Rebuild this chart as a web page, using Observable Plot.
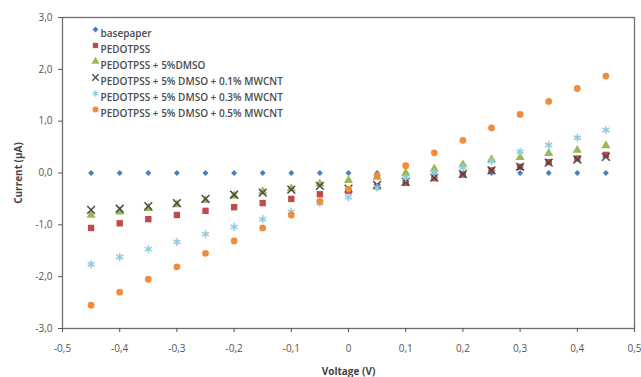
<!DOCTYPE html>
<html>
<head>
<meta charset="utf-8">
<script src="https://cdn.jsdelivr.net/npm/d3@7"></script>
<script src="https://cdn.jsdelivr.net/npm/@observablehq/plot@0.6"></script>
<style>
  html, body { margin: 0; padding: 0; background: #fff; }
  #chart svg { display: block; font-family: "Open Sans", sans-serif; overflow: visible; }
</style>
</head>
<body>
<div id="chart"></div>
<script>
const voltage = [-0.45, -0.4, -0.35, -0.3, -0.25, -0.2, -0.15, -0.1, -0.05, 0, 0.05, 0.1, 0.15, 0.2, 0.25, 0.3, 0.35, 0.4, 0.45];

const seriesNames = [
  "basepaper",
  "PEDOTPSS",
  "PEDOTPSS + 5%DMSO",
  "PEDOTPSS + 5% DMSO + 0.1% MWCNT",
  "PEDOTPSS + 5% DMSO + 0.3% MWCNT",
  "PEDOTPSS + 5% DMSO + 0.5% MWCNT"
];

const basepaper = [0, 0, 0, 0, 0, 0, 0, 0, 0, 0, 0, 0, 0, 0, 0, 0, 0, 0, 0];
const pedotpss = [-1.06, -0.97, -0.89, -0.81, -0.73, -0.66, -0.58, -0.50, -0.41, -0.35, -0.26, -0.19, -0.10, -0.03, 0.05, 0.12, 0.21, 0.28, 0.35];
const dmso5 = [-0.81, -0.75, -0.68, -0.61, -0.53, -0.44, -0.36, -0.30, -0.21, -0.14, -0.08, 0.00, 0.08, 0.16, 0.26, 0.30, 0.38, 0.44, 0.53];
const mwcnt01 = [-0.71, -0.69, -0.64, -0.58, -0.50, -0.42, -0.38, -0.32, -0.25, -0.30, -0.23, -0.17, -0.09, -0.02, 0.05, 0.12, 0.20, 0.26, 0.31];
const mwcnt03 = [-1.76, -1.62, -1.47, -1.33, -1.18, -1.04, -0.89, -0.75, -0.58, -0.47, -0.28, -0.09, 0.01, 0.10, 0.23, 0.41, 0.54, 0.68, 0.83];
const mwcnt05 = [-2.55, -2.30, -2.05, -1.81, -1.55, -1.31, -1.06, -0.81, -0.55, -0.31, -0.05, 0.14, 0.39, 0.63, 0.87, 1.13, 1.38, 1.63, 1.87];

const yTicks = [-3, -2, -1, 0, 1, 2, 3];
const xTicks = [-0.5, -0.4, -0.3, -0.2, -0.1, 0, 0.1, 0.2, 0.3, 0.4, 0.5];

const seriesValues = [basepaper, pedotpss, dmso5, mwcnt01, mwcnt03, mwcnt05];
const styles = [
  {symbol: "diamond2", color: "#4a7ebb", r: 2.7, filled: true},
  {symbol: "square", color: "#be4b48", r: 3.6, filled: true},
  {symbol: "triangle", color: "#98b954", r: 3.4, filled: true},
  {symbol: "times", color: "#4a4a4a", r: 3.6, filled: false},
  {symbol: "asterisk", color: "#8fcbe0", r: 3.8, filled: false},
  {symbol: "circle", color: "#f38b3c", r: 3.4, filled: true}
];

const data = seriesValues.flatMap((vals, s) =>
  vals.map((v, i) => ({series: s, voltage: voltage[i], current: v}))
);

const fmt = v => v === 0 ? "0" : d3.format(".1f")(v).replace(".", ",").replace("−", "-");
const fmtY = v => d3.format(".1f")(v).replace(".", ",").replace("−", "-");

const marks = [
  Plot.frame({stroke: "#6f6f6f", strokeWidth: 1.3}),
  Plot.axisY({ticks: yTicks, tickFormat: fmtY, tickSize: 4, tickPadding: 6, fontSize: 10, color: "#555",
    label: "Current (µA)", labelAnchor: "center", labelArrow: "none", labelOffset: 48}),
  Plot.axisX({ticks: xTicks, tickFormat: fmt, tickSize: 4, tickPadding: 12, fontSize: 10, color: "#555",
    label: "Voltage (V)", labelAnchor: "center", labelArrow: "none", labelOffset: 46})
];

seriesValues.forEach((vals, s) => {
  const st = styles[s];
  marks.push(Plot.dot(data.filter(d => d.series === s), {
    x: "voltage", y: "current", symbol: () => st.symbol, r: st.r,
    fill: st.filled ? st.color : "none", stroke: st.filled ? "none" : st.color,
    strokeWidth: st.filled ? 0 : 1.5
  }));
});

// legend
seriesNames.forEach((name, i) => {
  const st = styles[i];
  marks.push(Plot.dot([name], {
    frameAnchor: "top-left", dx: 33, dy: 12 + 16 * i, symbol: () => st.symbol, r: Math.min(st.r, 3),
    fill: st.filled ? st.color : "none", stroke: st.filled ? "none" : st.color, strokeWidth: st.filled ? 0 : 1.3
  }));
  marks.push(Plot.text([name], {
    frameAnchor: "top-left", dx: 38, dy: 12 + 16 * i, text: d => d, textAnchor: "start",
    fontSize: 10, fontWeight: 600, fill: "#4a4a4a"
  }));
});

const chart = Plot.plot({
  width: 641,
  height: 377,
  marginLeft: 62,
  marginRight: 7,
  marginTop: 17,
  marginBottom: 49,
  style: {fontFamily: "Open Sans, sans-serif", background: "#fff"},
  x: {domain: [-0.5, 0.5]},
  y: {domain: [-3, 3]},
  symbol: {type: "identity"},
  marks
});

chart.querySelectorAll("g[aria-label='y-axis label'] text, g[aria-label='x-axis label'] text").forEach(t => {
  t.setAttribute("font-weight", "bold");
  t.setAttribute("fill", "#444");
});

document.getElementById("chart").appendChild(chart);
</script>
</body>
</html>
